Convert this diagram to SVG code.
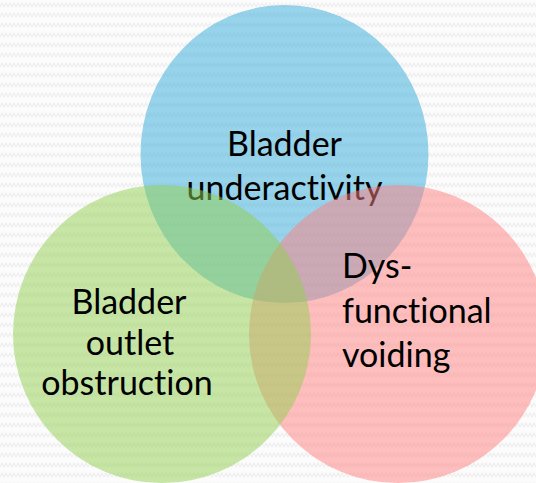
<svg xmlns="http://www.w3.org/2000/svg" width="536" height="483" viewBox="0 0 536 483">
  <defs>
    <pattern id="zig" width="8" height="10" patternUnits="userSpaceOnUse">
      <rect width="8" height="10" fill="#fcfcfc"/>
      <polyline points="0,7 2,3 4,7 6,3 8,7" fill="none" stroke="#efefef" stroke-width="1.2"/>
    </pattern>
    <style>
      .lbl { font-family: Lato, "Open Sans", "Liberation Sans", sans-serif; font-size: 34px; fill: #000; font-variant-ligatures: none; }
      .c { text-anchor: middle; }
    </style>
  </defs>
  <rect width="536" height="483" fill="url(#zig)"/>
  <g id="node-underactivity">
    <ellipse cx="284.5" cy="154" rx="144" ry="149" fill="#31A9D7" fill-opacity="0.5"/>
    <text class="lbl c" x="284.5" y="156">Bladder</text>
    <text class="lbl c" x="284.5" y="200">underactivity</text>
  </g>
  <g id="node-dysfunctional">
    <ellipse cx="398" cy="334" rx="149" ry="149" fill="#FF8080" fill-opacity="0.5"/>
    <text class="lbl" x="342" y="278">Dys-</text>
    <text class="lbl" x="342" y="323">functional</text>
    <text class="lbl" x="342" y="367">voiding</text>
  </g>
  <g id="node-obstruction">
    <ellipse cx="162" cy="334" rx="149" ry="149" fill="#92D050" fill-opacity="0.5"/>
    <text class="lbl c" x="129" y="314">Bladder</text>
    <text class="lbl c" x="130" y="355">outlet</text>
    <text class="lbl c" x="127" y="395">obstruction</text>
  </g>
  <g id="connectors"/>
</svg>
